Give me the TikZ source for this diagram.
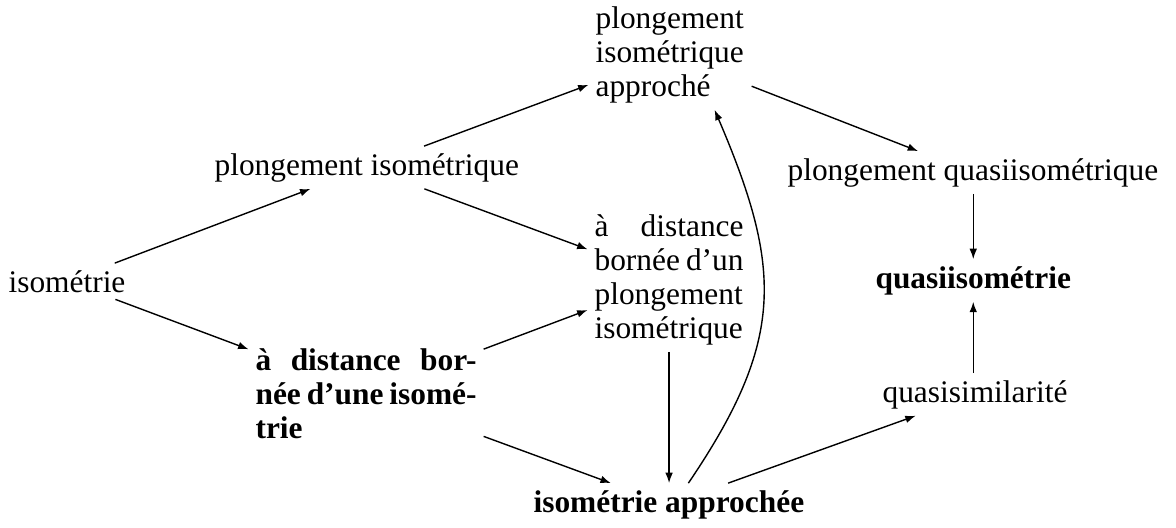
\documentclass[tikz,border=0pt]{standalone}
\usepackage{fontspec}
\setmainfont{Liberation Serif}
\usetikzlibrary{arrows.meta}
\begin{document}
\begin{tikzpicture}[x=0.5pt,y=-0.5pt,
  every node/.style={font=\fontsize{15.7pt}{17pt}\selectfont, inner sep=0.3333em},
  lab/.style={anchor=base west},
  blk/.style={anchor=base west, text width=#1, align=left},
  bf/.style={font=\fontsize{15.7pt}{17pt}\selectfont\bfseries},
  arr/.style={-{Latex[length=5.2pt,width=3.8pt]}, line width=0.7pt}]
\useasboundingbox (0,0) rectangle (1176,527);
\node[lab] (iso) at (1.5,292) {isométrie};
\node[lab] (pi) at (207.5,175) {plongement isométrique};
\node[blk=74.5pt] (pia) at (588.5,28) {plongement\\isométrique\\approché};
\node[blk=74.5pt] (dbp) at (587.5,236) {\makebox[\hsize][l]{à\hfill distance}\\\makebox[\hsize][l]{bornée\hfill d’un}\\plongement\\isométrique};
\node[blk=110.5pt, bf] (dbi) at (248.5,370) {\makebox[\hsize][l]{à\hfill distance\hfill bor-}\\\makebox[\hsize][l]{née\hfill d’une\hfill isomé-}\\trie};
\node[lab, bf] (ia) at (526.5,512) {isométrie approchée};
\node[lab] (pq) at (780.5,180) {plongement quasiisométrique};
\node[lab, bf] (qi) at (868.5,288) {quasiisométrie};
\node[lab] (qs) at (875.5,402) {quasisimilarité};
\draw[arr] (iso) -- (pi);
\draw[arr] (iso) -- (dbi);
\draw[arr] (pi) -- (pia);
\draw[arr] (pi) -- (dbp);
\draw[arr] (dbi) -- (dbp);
\draw[arr] (dbi) -- (ia);
\draw[arr] (dbp.south) -- (dbp.south |- ia.north);
\draw[arr] ([xshift=9.75pt]ia.north) .. controls +(97,-143) and +(68,159) .. ([xshift=22.25pt]pia.south);
\draw[arr] (ia) -- (qs);
\draw[arr] (pia) -- (pq);
\draw[arr] (pq.south -| qi.north) -- (qi.north);
\draw[arr] (qs.north -| qi.south) -- (qi.south);
\end{tikzpicture}
\end{document}
